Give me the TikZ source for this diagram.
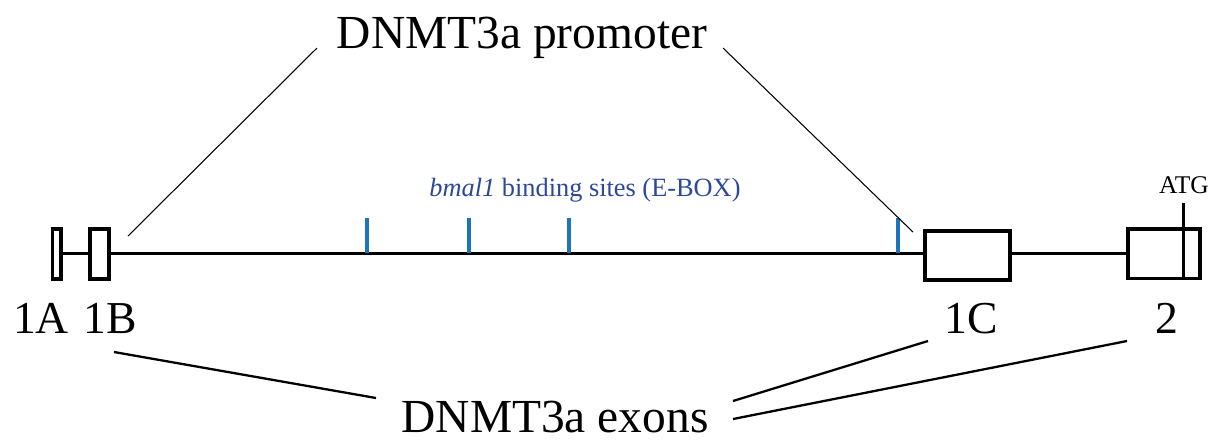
\documentclass[tikz,border=0pt]{standalone}
\usepackage{fontspec}
\setmainfont{Liberation Serif}
\usepackage{xcolor}
\usetikzlibrary{positioning}
\definecolor{eboxtext}{HTML}{2C4899}
\definecolor{eboxtick}{HTML}{1B75BC}

\tikzset{
  exonbox/.style={draw,line width=2pt,inner sep=0pt},
  genline/.style={line width=1.7pt},
  bigtext/.style={font=\fontsize{27}{30}\selectfont,anchor=base,inner sep=0pt},
  exonlabel/.style={font=\fontsize{26}{30}\selectfont,anchor=base,inner sep=0pt},
  pointer/.style={line width=0.6pt},
  exonline/.style={line width=1.3pt}
}

\begin{document}
\begin{tikzpicture}[x=0.02cm,y=-0.02cm]
\useasboundingbox (0,0) rectangle (1214,441);

% Exon boxes
\node[exonbox,minimum width=0.17cm,minimum height=1cm] (e1a) at (56.7,254) {};
\node[exonbox,minimum width=0.39cm,minimum height=1cm] (e1b) at (99.5,254) {};
\node[exonbox,minimum width=1.71cm,minimum height=0.98cm] (e1c) at (967.5,255.5) {};
\node[exonbox,minimum width=1.45cm,minimum height=0.99cm] (e2) at (1164,253.5) {};

% Gene line
\draw[genline] (e1a.east |- 0,253) -- (e1b.west |- 0,253);
\draw[genline] (e1b.east |- 0,253) -- (e1c.west |- 0,253);
\draw[genline] (e1c.east |- 0,253) -- (e2.west |- 0,253);

% E-box sites
\foreach \x in {367,469,569,898} {
  \draw[eboxtick,line width=1.8pt] (\x,218) -- (\x,253);
}
\node[font=\fontsize{15}{17}\selectfont,text=eboxtext,anchor=base,inner sep=0pt] (ebox) at (585,196) {\textit{bmal1} binding sites (E-BOX)};

% Start codon
\node[font=\fontsize{14.5}{16}\selectfont,anchor=base,inner sep=0pt] (atg) at (1184,193) {ATG};
\coordinate (atgtop) at (1183,203);
\coordinate (atgbot) at (1183,279);
\draw[genline] (atgtop) -- (atgbot);

% Exon labels
\node[exonlabel] (l1a) at (41,333) {1A};
\node[exonlabel] (l1b) at (110,333) {1B};
\node[exonlabel] (l1c) at (971,333) {1C};
\node[exonlabel] (l2) at (1167,333) {2};

% Promoter
\node[bigtext] (prom) at (522,48) {DNMT3a promoter};
\coordinate (pl) at (317,48);
\coordinate (pr) at (723,48);
\coordinate (pla) at (128,236);
\coordinate (pra) at (913,232);
\draw[pointer] (pl) -- (pla);
\draw[pointer] (pr) -- (pra);

% Exons
\node[bigtext] (exons) at (555,432) {DNMT3a exons};
\coordinate (xa) at (114,352);
\coordinate (xb) at (928,341);
\coordinate (xc) at (1127,341);
\coordinate (xae) at (376,398);
\coordinate (xbe) at (733,401);
\coordinate (xce) at (733,419);
\draw[exonline] (xa) -- (xae);
\draw[exonline] (xb) -- (xbe);
\draw[exonline] (xc) -- (xce);
\end{tikzpicture}
\end{document}
